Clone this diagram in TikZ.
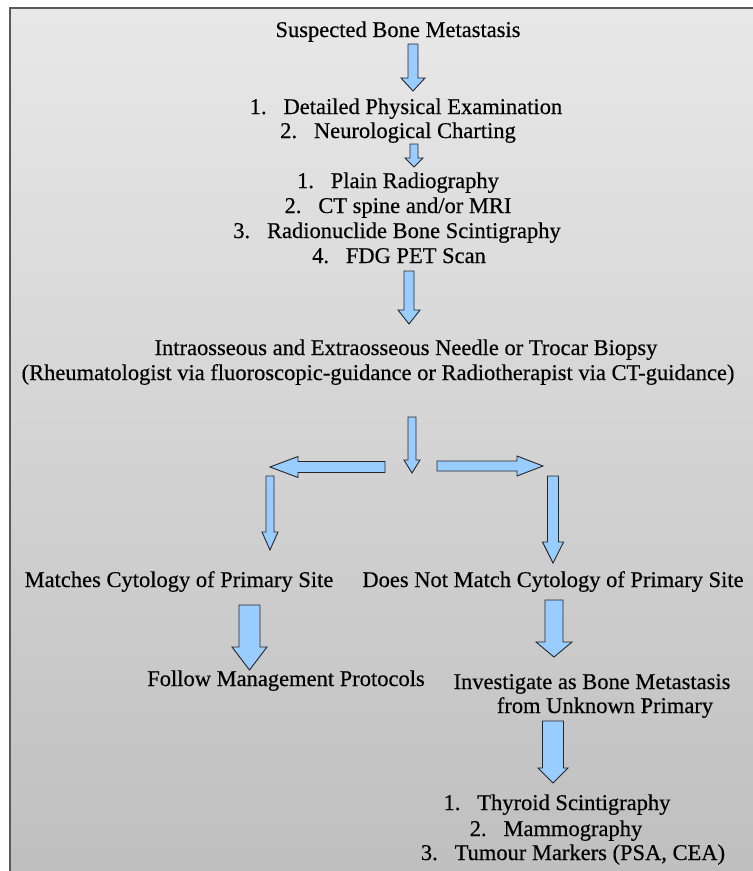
\documentclass[tikz,border=0pt]{standalone}
\usepackage{fontspec}
\setmainfont[FakeBold=0.4]{Liberation Serif}
\usepackage{tikz}
\usetikzlibrary{calc,arrows.meta}

\definecolor{arrowblue}{HTML}{99CCFF}
\definecolor{edgegray}{HTML}{5A5A5A}
\tikzset{
  lbl/.style={anchor=base, inner sep=0pt, font=\fontsize{22.5}{25}\selectfont},
  blockarrow/.style={fill=arrowblue, draw=black!85, line width=0.9pt, line join=miter}
}
% x, top, head start, tip, shaft half width, head half width
\newcommand{\vblock}[6]{\filldraw[blockarrow] (#1-#5,#2) -- (#1+#5,#2) -- (#1+#5,#3) -- (#1+#6,#3) -- (#1,#4) -- (#1-#6,#3) -- (#1-#5,#3) -- cycle;}
% y, tail, head start, tip, shaft half width, head half width
\newcommand{\hblock}[6]{\filldraw[blockarrow] (#2,#1-#5) -- (#2,#1+#5) -- (#3,#1+#5) -- (#3,#1+#6) -- (#4,#1) -- (#3,#1-#6) -- (#3,#1-#5) -- cycle;}
\newcommand{\itemno}[1]{#1.\enspace\ }

\begin{document}
\begin{tikzpicture}[x=1pt,y=-1pt]
\useasboundingbox (0,0) rectangle (753,871);
%background%
\shade[top color=white!91!black, bottom color=white!75!black] (10,8) rectangle (753,871);
\draw[edgegray, line width=1.6pt] (10,871) -- (10,8) -- (753,8);
%first steps%
\node[lbl] (suspect) at (398,37) {Suspected Bone Metastasis};
\node[lbl] (exam) at (406,114) {\itemno{1}Detailed Physical Examination};
\node[lbl] (chart) at (398,138) {\itemno{2}Neurological Charting};
%imaging%
\node[lbl] (plain) at (398,188) {\itemno{1}Plain Radiography};
\node[lbl] (ctmri) at (398,213) {\itemno{2}CT spine and/or MRI};
\node[lbl] (scinti) at (397,238) {\itemno{3}Radionuclide Bone Scintigraphy};
\node[lbl] (pet) at (399,263) {\itemno{4}FDG PET Scan};
%biopsy%
\node[lbl] (biopsy) at (406,355) {Intraosseous and Extraosseous Needle or Trocar Biopsy};
\node[lbl] (guide) at (378,380) {(Rheumatologist via fluoroscopic-guidance or Radiotherapist via CT-guidance)};
%branches%
\node[lbl] (match) at (179,587) {Matches Cytology of Primary Site};
\node[lbl] (nomatch) at (553,587) {Does Not Match Cytology of Primary Site};
\node[lbl] (follow) at (286,686) {Follow Management Protocols};
\node[lbl] (invest) at (592,689) {Investigate as Bone Metastasis};
\node[lbl] (unknown) at (605,713) {from Unknown Primary};
%primary search%
\node[lbl] (thyroid) at (557,810) {\itemno{1}Thyroid Scintigraphy};
\node[lbl] (mammo) at (556,836) {\itemno{2}Mammography};
\node[lbl] (markers) at (573,860) {\itemno{3}Tumour Markers (PSA, CEA)};
%arrows%
\vblock{413}{44}{78}{91}{5}{12}
\vblock{414}{144}{158}{167}{4}{9}
\vblock{409}{271}{310}{324}{5}{11}
\vblock{412}{417}{460}{473}{4}{8}
\hblock{467}{385}{298}{270}{5.5}{10.5}
\hblock{466}{437}{517}{543}{5}{10}
\vblock{270}{476}{532}{550}{4}{8}
\vblock{553}{476}{542}{563}{5.5}{10.5}
\vblock{249.5}{605}{647}{670}{10.5}{17.5}
\vblock{554}{600}{642}{657}{9}{18}
\vblock{553}{721}{768}{783}{10.5}{15}
\end{tikzpicture}
\end{document}
